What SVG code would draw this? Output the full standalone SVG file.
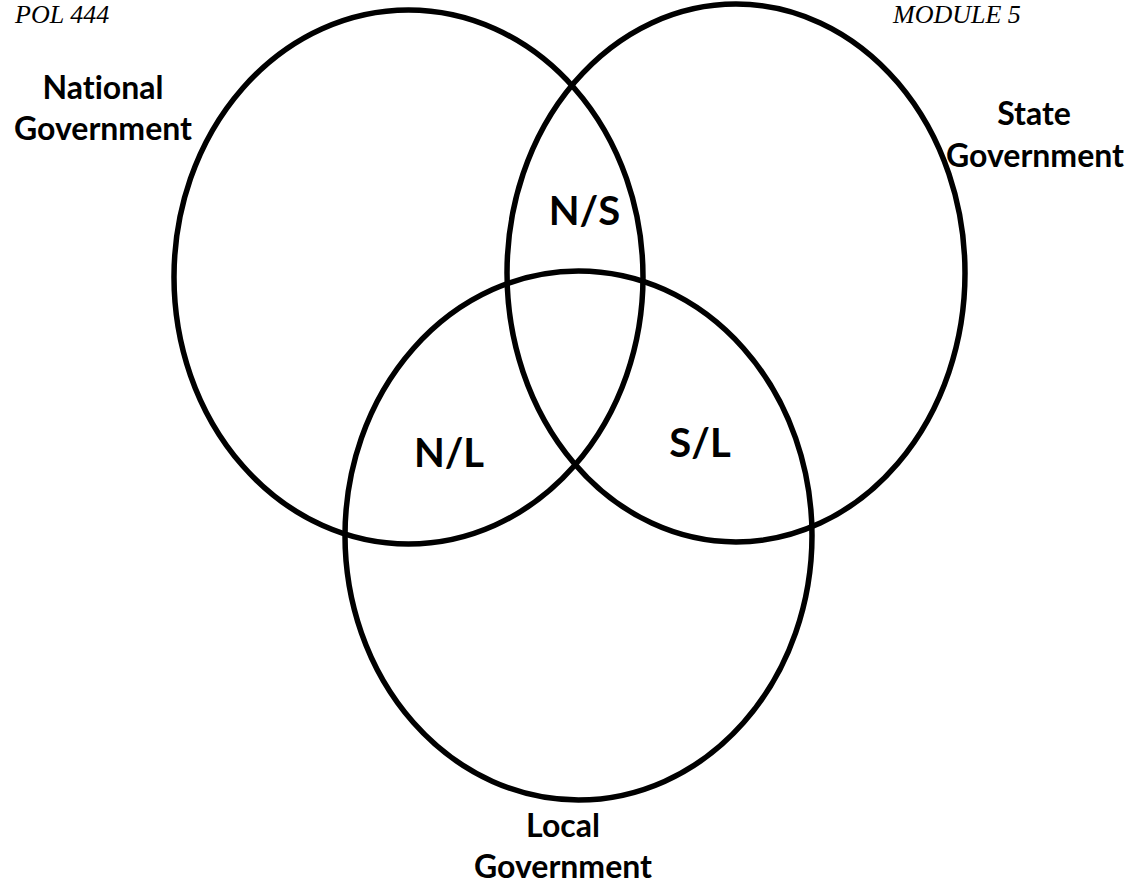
<svg xmlns="http://www.w3.org/2000/svg" width="1128" height="883" viewBox="0 0 1128 883">
<style>
.c{fill:none;stroke:#000;stroke-width:5.5}
.h{font-family:"Liberation Serif",serif;font-style:italic;font-size:26px;fill:#000}
.l{font-family:Lato,"Liberation Sans",sans-serif;font-weight:bold;font-size:32px;fill:#000;text-anchor:middle;font-variant-ligatures:none}
.r{font-family:Lato,"Liberation Sans",sans-serif;font-weight:bold;font-size:40px;fill:#000;text-anchor:middle}
</style>
<rect width="1128" height="883" fill="#fff"/>
<text class="h" x="15" y="23">POL 444</text>
<text class="h" x="893" y="23">MODULE 5</text>
<g id="national">
<ellipse class="c" cx="408.5" cy="277" rx="234.5" ry="267"/>
<text class="l" x="103" y="99">National</text>
<text class="l" x="103" y="140">Government</text>
</g>
<g id="state">
<ellipse class="c" cx="736" cy="273" rx="229" ry="269"/>
<text class="l" x="1034" y="125">State</text>
<text class="l" x="1035" y="167">Government</text>
</g>
<g id="local">
<ellipse class="c" cx="578.5" cy="535.5" rx="233.5" ry="264.5"/>
<text class="l" x="563" y="837">Local</text>
<text class="l" x="563" y="878">Government</text>
</g>
<g id="overlaps">
<text class="r" x="584.5" y="225">N/S</text>
<text class="r" x="449" y="467">N/L</text>
<text class="r" x="700" y="457">S/L</text>
</g>
<g id="connectors"></g>
</svg>
